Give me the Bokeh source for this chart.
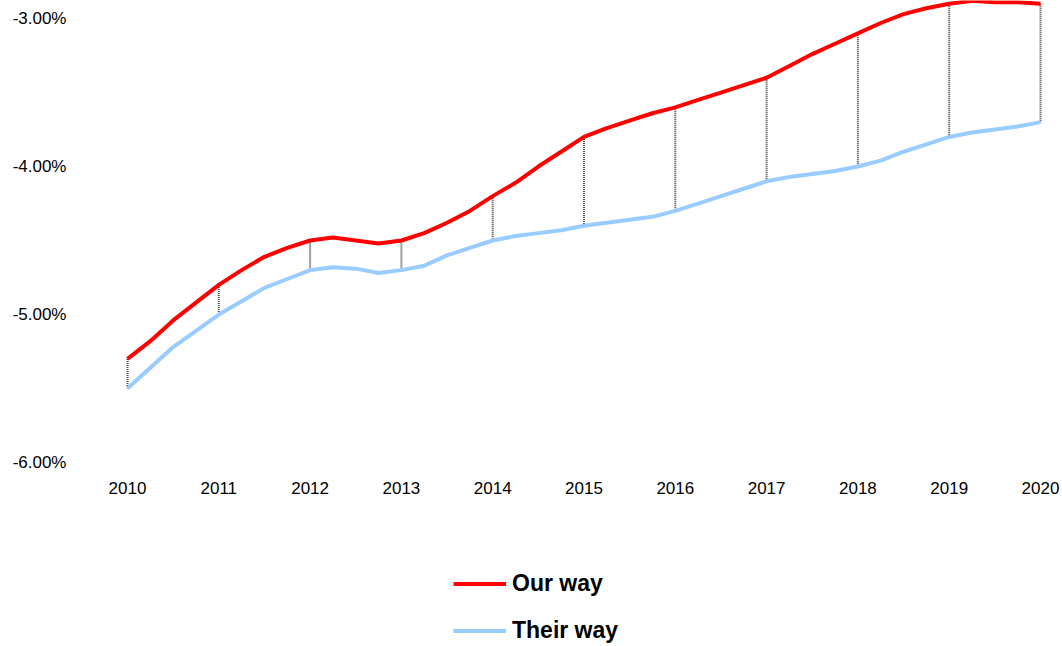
from bokeh.plotting import figure
from bokeh.layouts import column
from bokeh.models import (FixedTicker, PrintfTickFormatter, Legend, LegendItem,
                          Range1d)
from bokeh.embed import file_html
from bokeh.resources import INLINE

# ---- data (quarterly) ----
periods = [2010.0, 2010.25, 2010.5, 2010.75,
           2011.0, 2011.25, 2011.5, 2011.75,
           2012.0, 2012.25, 2012.5, 2012.75,
           2013.0, 2013.25, 2013.5, 2013.75,
           2014.0, 2014.25, 2014.5, 2014.75,
           2015.0, 2015.25, 2015.5, 2015.75,
           2016.0, 2016.25, 2016.5, 2016.75,
           2017.0, 2017.25, 2017.5, 2017.75,
           2018.0, 2018.25, 2018.5, 2018.75,
           2019.0, 2019.25, 2019.5, 2019.75,
           2020.0]
our_way = [-5.30, -5.18, -5.04, -4.92,
           -4.80, -4.70, -4.61, -4.55,
           -4.50, -4.48, -4.50, -4.52,
           -4.50, -4.45, -4.38, -4.30,
           -4.20, -4.11, -4.00, -3.90,
           -3.80, -3.74, -3.69, -3.64,
           -3.60, -3.55, -3.50, -3.45,
           -3.40, -3.32, -3.24, -3.17,
           -3.10, -3.03, -2.97, -2.93,
           -2.90, -2.88, -2.89, -2.89,
           -2.90]
their_way = [-5.50, -5.36, -5.22, -5.11,
             -5.00, -4.91, -4.82, -4.76,
             -4.70, -4.68, -4.69, -4.72,
             -4.70, -4.67, -4.60, -4.55,
             -4.50, -4.47, -4.45, -4.43,
             -4.40, -4.38, -4.36, -4.34,
             -4.30, -4.25, -4.20, -4.15,
             -4.10, -4.07, -4.05, -4.03,
             -4.00, -3.96, -3.90, -3.85,
             -3.80, -3.77, -3.75, -3.73,
             -3.70]
year_ticks = [2010, 2011, 2012, 2013, 2014, 2015, 2016, 2017, 2018, 2019, 2020]
pct_ticks = [-6.0, -5.0, -4.0, -3.0]
series_names = ["Our way", "Their way"]
series_colors = ["#ff0000", "#99ccff"]

# yearly points for the drop lines
drop_x = periods[::4]
drop_top = our_way[::4]
drop_bottom = their_way[::4]

FONT = "Liberation Sans"
x_rng = Range1d(2009.4852, 2020.241)

p = figure(width=1062, height=520, output_backend="svg", toolbar_location=None,
           x_range=x_rng, y_range=Range1d(-6.0, -2.878),
           min_border_left=80, min_border_right=0, min_border_top=0,
           min_border_bottom=58)
p.outline_line_color = None
p.xgrid.visible = False
p.ygrid.visible = False
p.background_fill_color = "white"
p.border_fill_color = "white"

# drop lines
p.segment(x0=drop_x, y0=drop_top, x1=drop_x, y1=drop_bottom,
          line_color="#444444", line_width=2, line_dash="1 1")

p.line(periods, their_way, line_color=series_colors[1], line_width=4)
p.line(periods, our_way, line_color=series_colors[0], line_width=4)

# axes
xa = p.xaxis[0]
xa.ticker = FixedTicker(ticks=year_ticks)
xa.axis_line_color = None
xa.major_tick_line_color = None
xa.minor_tick_line_color = None
xa.major_tick_out = 0
xa.major_label_text_font = FONT
xa.major_label_text_font_size = "17px"
xa.major_label_text_color = "#000000"
xa.major_label_standoff = 19

ya = p.yaxis[0]
ya.ticker = FixedTicker(ticks=pct_ticks)
ya.formatter = PrintfTickFormatter(format="%.2f%%")
ya.axis_line_color = None
ya.major_tick_line_color = None
ya.minor_tick_line_color = None
ya.major_tick_out = 0
ya.major_label_text_font = FONT
ya.major_label_text_font_size = "17px"
ya.major_label_text_color = "#000000"
ya.major_label_standoff = 14

# legend strip below the chart (series drawn again, outside its visible y range)
lg = figure(width=1062, height=126, output_backend="svg", toolbar_location=None,
            x_range=x_rng, y_range=Range1d(0, 1),
            x_axis_type=None, y_axis_type=None,
            min_border_left=0, min_border_right=0, min_border_top=0,
            min_border_bottom=0)
lg.outline_line_color = None
lg.grid.visible = False
lg_r = [lg.line(periods, vals, line_color=c, line_width=4)
        for vals, c in zip([our_way, their_way], series_colors)]

legend = Legend(items=[LegendItem(label=n, renderers=[r])
                       for n, r in zip(series_names, lg_r)],
                orientation="vertical", location=(373, 2),
                label_text_font=FONT, label_text_font_size="23px",
                label_text_font_style="bold", label_text_color="#000000",
                glyph_width=53, glyph_height=25, label_height=25,
                label_standoff=6, spacing=20, padding=0, margin=0,
                border_line_color=None, background_fill_alpha=0)
lg.add_layout(legend, "center")

layout = column(p, lg, spacing=0)
open("out.html", "w").write(file_html(layout, INLINE))
